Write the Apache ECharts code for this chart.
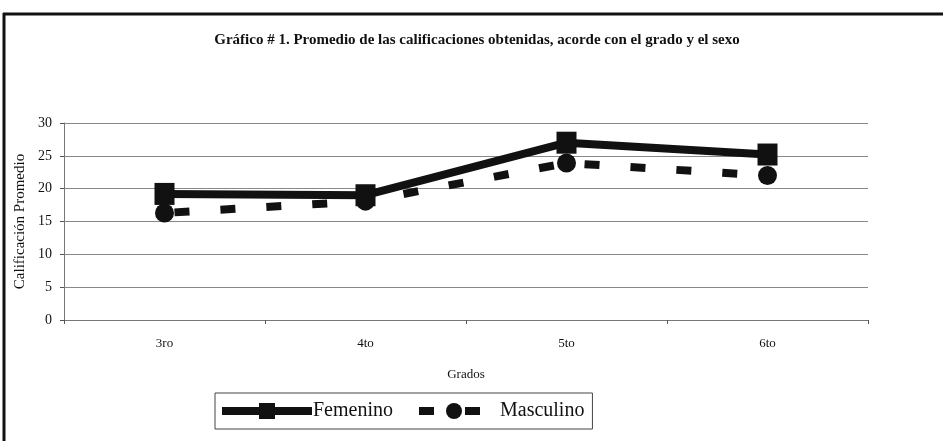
<!DOCTYPE html>
<html>
<head>
<meta charset="utf-8">
<script src="https://cdn.jsdelivr.net/npm/echarts@6/dist/echarts.min.js"></script>
<style>
html,body{margin:0;padding:0;background:#fff;}
#c{width:943px;height:441px;}
</style>
</head>
<body>
<div id="c"></div>
<script>
var categories = ['3ro', '4to', '5to', '6to'];
var femenino = [19.2, 19.0, 27.0, 25.2];
var masculino = [16.3, 18.1, 23.9, 22.0];
var yTicks = [0, 5, 10, 15, 20, 25, 30];

var serif = '"Liberation Serif", "DejaVu Serif", serif';
var chart = echarts.init(document.getElementById('c'));
chart.setOption({
  backgroundColor: '#fff',
  animation: false,
  title: {
    text: 'Gráfico # 1. Promedio de las calificaciones obtenidas, acorde con el grado y el sexo',
    left: 472, textAlign: 'center', top: 28,
    textStyle: { fontFamily: serif, fontSize: 15, fontWeight: 'bold', color: '#111' }
  },
  graphic: [
    { type: 'line', shape: { x1: 3, y1: 14, x2: 943, y2: 14 }, style: { stroke: '#111', lineWidth: 3 } },
    { type: 'line', shape: { x1: 4, y1: 13, x2: 4, y2: 441 }, style: { stroke: '#111', lineWidth: 3 } }
  ],
  legend: {
    left: 215, top: 393,
    orient: 'horizontal',
    padding: [8, 8, 8, 3],
    itemWidth: 90, itemHeight: 20, itemGap: 12,
    borderColor: '#444', borderWidth: 1,
    textStyle: { fontFamily: serif, fontSize: 20, color: '#111', padding: [0, 0, 0, -4] },
    data: [
      { name: 'Femenino', lineStyle: { width: 8 } },
      { name: 'Masculino', lineStyle: { width: 8 } }
    ]
  },
  grid: { left: 64, right: 75, top: 123, bottom: 121 },
  xAxis: {
    type: 'category', data: categories, boundaryGap: true,
    name: 'Grados', nameLocation: 'middle', nameGap: 48,
    nameTextStyle: { fontFamily: serif, fontSize: 13, color: '#111' },
    axisLine: { lineStyle: { color: '#777', width: 1 } },
    axisTick: { show: true, length: 4, lineStyle: { color: '#555' } },
    axisLabel: { fontFamily: serif, fontSize: 13, color: '#111', margin: 17 },
    splitLine: { show: false }
  },
  yAxis: {
    type: 'value', min: 0, max: 30, interval: 5,
    name: 'Calificación Promedio', nameLocation: 'middle', nameGap: 36,
    nameTextStyle: { fontFamily: serif, fontSize: 15, color: '#111' },
    axisLine: { show: true, lineStyle: { color: '#777', width: 1 } },
    axisTick: { show: true, length: 4, lineStyle: { color: '#555' } },
    axisLabel: { fontFamily: serif, fontSize: 14, color: '#111', margin: 12,
      formatter: function (v) { return yTicks.indexOf(v) >= 0 ? String(v) : ''; } },
    splitLine: { show: true, lineStyle: { color: '#888', width: 1 } }
  },
  series: [
    {
      name: 'Femenino', type: 'line', data: femenino,
      symbol: 'rect', symbolSize: [20, 22],
      lineStyle: { color: '#111', width: 8 },
      itemStyle: { color: '#111' },
      z: 3
    },
    {
      name: 'Masculino', type: 'line', data: masculino,
      symbol: 'circle', symbolSize: 19,
      lineStyle: { color: '#111', width: 8, type: [15, 31], dashOffset: -10 },
      itemStyle: { color: '#111' },
      z: 2
    }
  ]
});
</script>
</body>
</html>
